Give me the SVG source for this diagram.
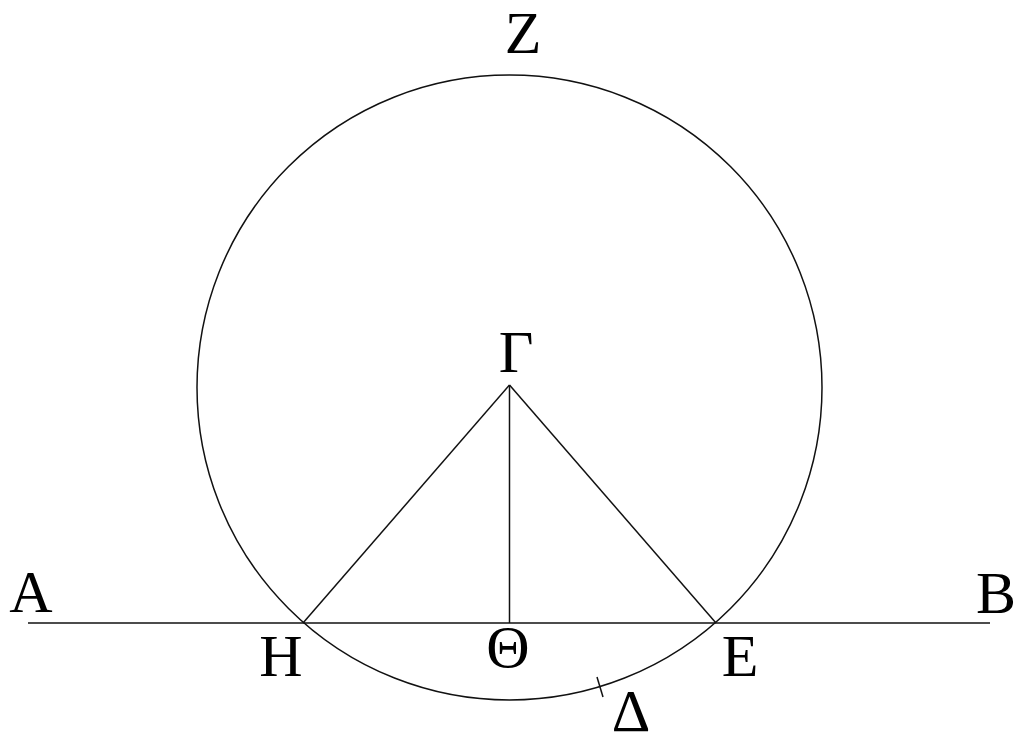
<svg xmlns="http://www.w3.org/2000/svg" width="1017" height="745" viewBox="0 0 1017 745">
<style>
.ln{stroke:#111;stroke-width:1.5;fill:none}
.lb{font-size:60px;fill:#000;text-anchor:middle}
</style>
<rect width="1017" height="745" fill="#fff"/>
<g id="connectors">
<circle id="circle" class="ln" cx="509.5" cy="387.5" r="312.5" stroke-width="1.3"/>
<line class="ln" x1="28" y1="623" x2="990" y2="623"/>
<line class="ln" x1="509.5" y1="385" x2="303" y2="623"/>
<line class="ln" x1="509.5" y1="385" x2="716" y2="623"/>
<line class="ln" x1="509.5" y1="385" x2="509.5" y2="623"/>
<line class="ln" x1="597" y1="677" x2="603" y2="697"/>
</g>
<g font-family="'Liberation Serif', 'Times New Roman', 'DejaVu Serif', serif">
<g id="Z"><text class="lb" x="523" y="53">Z</text></g>
<g id="Gamma"><text class="lb" x="516" y="372">Γ</text></g>
<g id="A"><text class="lb" x="31" y="612">A</text></g>
<g id="B"><text class="lb" x="996" y="613">B</text></g>
<g id="H"><text class="lb" x="281" y="676">H</text></g>
<g id="Theta"><text class="lb" x="508" y="667">Θ</text></g>
<g id="E"><text class="lb" x="740" y="676">E</text></g>
<g id="Delta"><text class="lb" x="631" y="731">Δ</text></g>
</g>
</svg>
